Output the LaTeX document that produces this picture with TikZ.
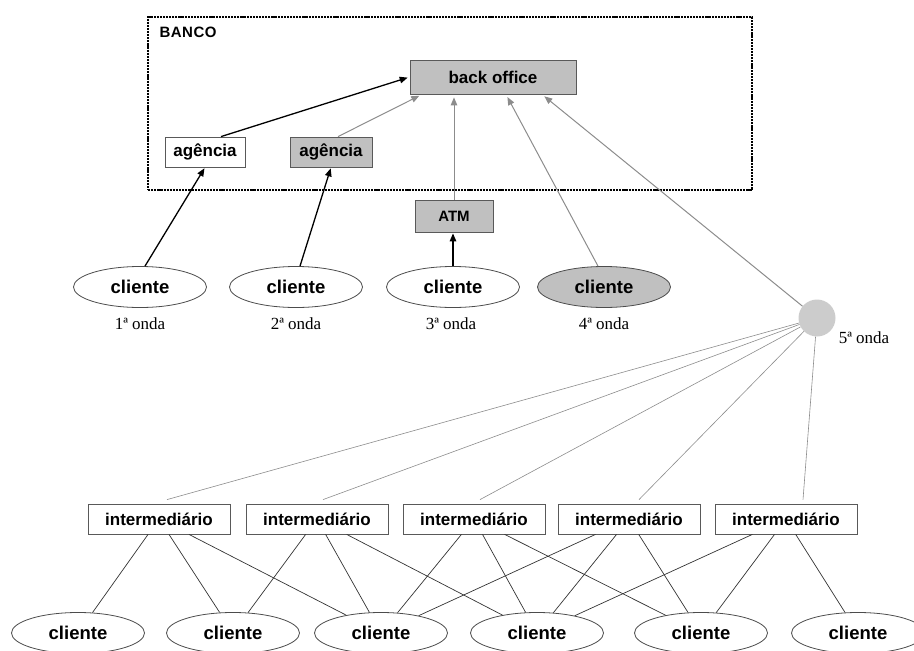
\documentclass[tikz,border=0pt]{standalone}
\usepackage{fontspec}
\setmainfont{Liberation Serif}
\setsansfont{Liberation Sans}
\usetikzlibrary{arrows.meta,shapes.geometric,calc}
\definecolor{boxgray}{HTML}{C0C0C0}
\definecolor{linegray}{HTML}{8C8C8C}
\definecolor{circgray}{HTML}{CCCCCC}
\tikzset{
 lbl/.style={font=\sffamily\bfseries\fontsize{17}{20}\selectfont},
 rbox/.style={lbl, draw=black!65, line width=0.8pt, rectangle, minimum height=30pt, inner sep=0pt},
 cli/.style={ellipse, draw=black!70, line width=0.8pt, minimum width=133pt, minimum height=41pt, inner sep=0pt, font=\sffamily\bfseries\fontsize{18.5}{20}\selectfont},
 onda/.style={font=\fontsize{17}{20}\selectfont},
 blk/.style={-{Triangle[length=8pt,width=6.5pt]}, line width=1.3pt, black},
 gry/.style={-{Triangle[length=8pt,width=6.5pt]}, line width=1pt, linegray},
 conn/.style={line width=0.7pt, black!80},
 fan/.style={line width=0.6pt, linegray},
 bancobox/.style={draw=black, line width=2.8pt, dash pattern=on 2.2pt off 0.9pt, rectangle, inner sep=0pt},
}
\begin{document}
\begin{tikzpicture}[x=1pt,y=-1pt]
\useasboundingbox (0,0) rectangle (914,651);
% BANCO frame
\node[bancobox, minimum width=604pt, minimum height=173pt] (banco) at (450,103.5) {};
\node[lbl, anchor=west, font=\sffamily\bfseries\fontsize{15}{18}\selectfont] (bancolbl) at (156,32) {B\kern0.5pt A\kern0.5pt N\kern0.5pt C\kern0.5pt O};
% boxes inside
\node[rbox, fill=boxgray, minimum width=166pt, minimum height=34pt] (bo) at (493,77) {back office};
\node[rbox, fill=white, minimum width=80pt] (ag1) at (205,152) {agência};
\node[rbox, fill=boxgray, minimum width=82pt] (ag2) at (331,152) {agência};
\node[rbox, fill=boxgray, minimum width=78pt, minimum height=32pt, font=\sffamily\bfseries\fontsize{15}{18}\selectfont] (atm) at (454,216) {ATM};
% top clients
\node[cli, fill=white] (c1) at (140,287) {cliente};
\node[cli, fill=white] (c2) at (296,287) {cliente};
\node[cli, fill=white] (c3) at (453,287) {cliente};
\node[cli, fill=boxgray] (c4) at (604,287) {cliente};
\node[onda] (o1) at (140,324) {1ª onda};
\node[onda] (o2) at (296,324) {2ª onda};
\node[onda] (o3) at (451,324) {3ª onda};
\node[onda] (o4) at (604,324) {4ª onda};
% 5th wave hub
\node[circle, fill=circgray, minimum size=37pt, inner sep=0pt] (hub) at (817,318) {};
\node[onda] (o5) at (864,338) {5ª onda};
% arrows
\draw[blk, shorten >=2pt] ([xshift=16pt]ag1.north) -- (bo.west);
\draw[gry, shorten >=3pt] ([xshift=7pt]ag2.north) -- ([xshift=-71pt]bo.south);
\draw[gry, shorten >=3pt] (atm.north) -- ([xshift=-39pt]bo.south);
\draw[gry, shorten >=3pt] ([xshift=-6pt]c4.north) -- ([xshift=13pt]bo.south);
\draw[gry, shorten >=3pt] (hub) -- ([xshift=49pt]bo.south);
\draw[blk, shorten >=1pt] ([xshift=5pt]c1.north) -- (ag1.south);
\draw[blk, shorten >=1pt] ([xshift=4pt]c2.north) -- (ag2.south);
\draw[blk, shorten >=1pt] (c3.north) -- (c3.north |- atm.south);
% intermediaries
\node[rbox, fill=white, minimum width=142pt] (i1) at (159,519) {intermediário};
\node[rbox, fill=white, minimum width=142pt] (i2) at (317,519) {intermediário};
\node[rbox, fill=white, minimum width=142pt] (i3) at (474,519) {intermediário};
\node[rbox, fill=white, minimum width=142pt] (i4) at (629,519) {intermediário};
\node[rbox, fill=white, minimum width=142pt] (i5) at (786,519) {intermediário};
\draw[fan] (hub) -- ([xshift=8pt,yshift=4pt]i1.north);
\draw[fan] (hub) -- ([xshift=6pt,yshift=4pt]i2.north);
\draw[fan] (hub) -- ([xshift=6pt,yshift=4pt]i3.north);
\draw[fan] (hub) -- ([xshift=10pt,yshift=4pt]i4.north);
\draw[fan] (hub) -- ([xshift=17pt,yshift=4pt]i5.north);
% bottom clients
\node[cli, fill=white] (d1) at (78,633) {cliente};
\node[cli, fill=white] (d2) at (233,633) {cliente};
\node[cli, fill=white] (d3) at (381,633) {cliente};
\node[cli, fill=white] (d4) at (537,633) {cliente};
\node[cli, fill=white] (d5) at (701,633) {cliente};
\node[cli, fill=white] (d6) at (858,633) {cliente};
\foreach \a/\b in {i1/d1,i1/d2,i1/d3,i2/d2,i2/d3,i2/d4,i3/d3,i3/d4,i3/d5,i4/d3,i4/d4,i4/d5,i5/d4,i5/d5,i5/d6}
  \draw[conn] (\a) -- (\b);
\end{tikzpicture}
\end{document}
